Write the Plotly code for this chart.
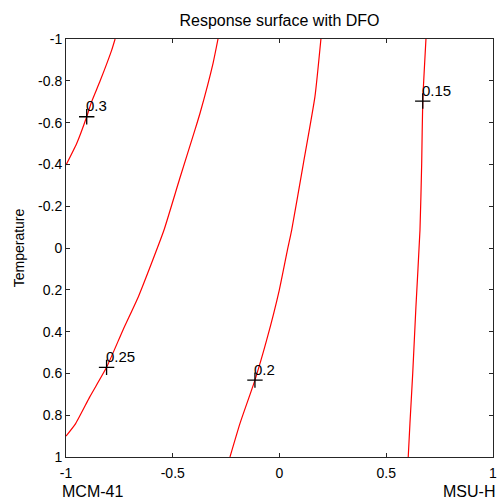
import plotly.graph_objects as go

# Contour lines: x = MCM-41 -> MSU-H, y = Temperature
c030_x = [-0.77, -0.786, -0.84, -0.88, -0.903, -0.95, -1.0]
c030_y = [-1.0, -0.947, -0.80, -0.70, -0.628, -0.50, -0.397]

c025_x = [-0.288, -0.311, -0.372, -0.396, -0.468, -0.541, -0.599, -0.661, -0.733, -0.81, -0.888, -0.955, -1.0]
c025_y = [-1.0, -0.885, -0.646, -0.565, -0.33, -0.086, 0.072, 0.233, 0.392, 0.571, 0.711, 0.840, 0.90]

c020_x = [0.194, 0.166, 0.112, 0.057, 0.037, -0.001, -0.06, -0.115, -0.185, -0.232]
c020_y = [-1.0, -0.724, -0.405, -0.086, 0.01, 0.201, 0.44, 0.632, 0.839, 1.0]

c015_x = [0.686, 0.671, 0.666, 0.658, 0.639, 0.624, 0.611, 0.603]
c015_y = [-1.0, -0.703, -0.405, -0.086, 0.281, 0.60, 0.839, 1.0]

# Contour labels
label_text = ["0.3", "0.25", "0.2", "0.15"]
label_x = [-0.903, -0.81, -0.115, 0.671]
label_y = [-0.628, 0.571, 0.632, -0.703]

x_ticks = [-1, -0.5, 0, 0.5, 1]
x_tick_text = ["-1", "-0.5", "0", "0.5", "1"]
y_ticks = [-1, -0.8, -0.6, -0.4, -0.2, 0, 0.2, 0.4, 0.6, 0.8, 1]
y_tick_text = ["-1", "-0.8", "-0.6", "-0.4", "-0.2", "0", "0.2", "0.4", "0.6", "0.8", "1"]

FONT = "Liberation Sans, Arial, Helvetica, sans-serif"

fig = go.Figure()
for xs, ys in [(c030_x, c030_y), (c025_x, c025_y), (c020_x, c020_y), (c015_x, c015_y)]:
    fig.add_trace(go.Scatter(x=xs, y=ys, mode="lines",
                             line=dict(color="#ff0000", width=1.2, shape="spline", smoothing=0.5),
                             showlegend=False, hoverinfo="skip"))

fig.add_trace(go.Scatter(x=label_x, y=label_y, mode="markers",
                         marker=dict(symbol="cross-thin", size=11, line=dict(color="black", width=1.3)),
                         showlegend=False, hoverinfo="skip"))

for t, x, y in zip(label_text, label_x, label_y):
    fig.add_annotation(x=x, y=y, text=t, showarrow=False, xanchor="left", yanchor="middle",
                       xshift=-3, yshift=11, font=dict(family=FONT, size=15, color="black"))

fig.add_annotation(xref="paper", yref="paper", x=0, y=0, yshift=-34, xshift=-6,
                   text="MCM-41", showarrow=False, xanchor="left", yanchor="middle",
                   font=dict(family=FONT, size=16, color="black"))
fig.add_annotation(xref="paper", yref="paper", x=1, y=0, yshift=-34, xshift=4,
                   text="MSU-H", showarrow=False, xanchor="right", yanchor="middle",
                   font=dict(family=FONT, size=16, color="black"))

axis_common = dict(showline=True, linecolor="#262626", linewidth=1, mirror="ticks",
                   ticks="inside", ticklen=4, tickcolor="#262626", showgrid=False,
                   zeroline=False, ticklabeloverflow="allow", automargin=False,
                   tickfont=dict(family=FONT, size=14, color="black"))

fig.update_layout(
    width=497, height=500,
    margin=dict(l=66, r=4, t=39, b=43),
    plot_bgcolor="white", paper_bgcolor="white",
    title=dict(text="Response surface with DFO", xref="paper", x=0.5, xanchor="center",
               y=0.96, yanchor="middle",
               font=dict(family=FONT, size=16, color="black")),
    xaxis=dict(range=[-1, 1], tickvals=x_ticks, ticktext=x_tick_text, ticklabelstandoff=3,
               **axis_common),
    yaxis=dict(range=[1, -1], tickvals=y_ticks, ticktext=y_tick_text,
               title=dict(text="Temperature", standoff=10, font=dict(family=FONT, size=14, color="black")),
               **axis_common),
)

fig.write_html("out.html", config={"displayModeBar": False},
               post_script="document.body.style.margin='0';document.body.style.overflow='hidden';")
